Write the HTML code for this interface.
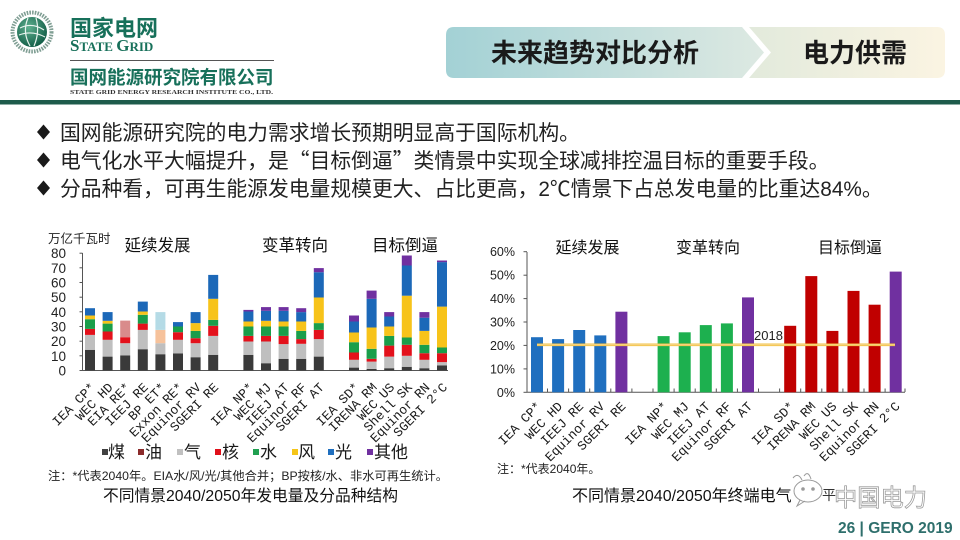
<!DOCTYPE html>
<html><head><meta charset="utf-8"><style>
html,body{margin:0;padding:0;background:#fff}
body{width:960px;height:540px;overflow:hidden;position:relative;font-family:"Liberation Sans","Noto Sans CJK SC",sans-serif}
svg{position:absolute;left:0;top:0}
.cjk{font-family:"Liberation Sans","Noto Sans CJK SC",sans-serif}
.mono{font-family:"Liberation Mono","Noto Sans CJK SC",monospace}
</style></head><body>
<svg width="960" height="540" viewBox="0 0 960 540" xmlns="http://www.w3.org/2000/svg">
<defs>
<linearGradient id="gL" x1="0" x2="1" y1="0" y2="0"><stop offset="0" stop-color="#a3d1d5"/><stop offset="1" stop-color="#dde9e2"/></linearGradient>
<linearGradient id="gR" x1="0" x2="1" y1="0" y2="0"><stop offset="0" stop-color="#e2eadc"/><stop offset="1" stop-color="#fbf4e2"/></linearGradient>
<radialGradient id="gG" cx="0.4" cy="0.35" r="0.7"><stop offset="0" stop-color="#5fb08f"/><stop offset="1" stop-color="#0f5a44"/></radialGradient>
</defs>

<!-- Logo -->
<circle cx="32" cy="32" r="19.5" fill="none" stroke="#7f9e93" stroke-width="4" stroke-dasharray="1.6 1.1"/>
<circle cx="32" cy="32" r="15" fill="url(#gG)"/>
<path d="M20,28 Q32,22 44,30 M19,35 Q32,30 45,37 M28,18 Q22,32 30,46 M36,18 Q40,32 34,46" stroke="#e8f3ee" stroke-width="1.2" fill="none"/>

<text x="70" y="36" font-size="22" font-weight="700" fill="#17705a" class="cjk">国家电网</text>
<text x="70" y="51" font-family="Liberation Serif, serif" font-weight="700" fill="#17705a"><tspan font-size="17">S</tspan><tspan font-size="13">TATE </tspan><tspan font-size="17">G</tspan><tspan font-size="13">RID</tspan></text>
<line x1="70" y1="60.5" x2="274" y2="60.5" stroke="#555" stroke-width="1"/>
<text x="70" y="84" font-size="18.5" font-weight="700" fill="#17705a" class="cjk">国网能源研究院有限公司</text>
<text x="70" y="94" font-size="6" font-weight="700" fill="#333" font-family="Liberation Serif, serif" textLength="203" lengthAdjust="spacingAndGlyphs">STATE GRID ENERGY RESEARCH INSTITUTE CO., LTD.</text>
<rect x="0" y="100" width="960" height="4.5" fill="#1e5b4b"/>

<!-- Title pill -->
<path d="M454,27 H742 L764,52.5 L742,78 H454 Q446,78 446,70 V35 Q446,27 454,27 Z" fill="url(#gL)"/>
<path d="M749,27 H937 Q945,27 945,35 V70 Q945,78 937,78 H749 L771,52.5 Z" fill="url(#gR)"/>
<text x="595" y="62" font-size="26" font-weight="700" fill="#1a1a1a" text-anchor="middle" class="cjk">未来趋势对比分析</text>
<text x="855" y="62" font-size="26" font-weight="700" fill="#1a1a1a" text-anchor="middle" class="cjk">电力供需</text>

<!-- Bullets -->
<g fill="#1a1a1a">
<polygon points="43.5,124.5 50,132 43.5,139.5 37,132"/>
<polygon points="43.5,152.5 50,160 43.5,167.5 37,160"/>
<polygon points="43.5,180.5 50,188 43.5,195.5 37,188"/>
</g>
<g font-size="20.8" fill="#222" class="cjk">
<text x="60" y="140">国网能源研究院的电力需求增长预期明显高于国际机构。</text>
<text x="60" y="168">电气化水平大幅提升，是<tspan style="font-family:'Noto Sans CJK SC',sans-serif">“</tspan>目标倒逼<tspan style="font-family:'Noto Sans CJK SC',sans-serif">”</tspan>类情景中实现全球减排控温目标的重要手段。</text>
<text x="60" y="196">分品种看，可再生能源发电量规模更大、占比更高，2℃情景下占总发电量的比重达84%。</text>
</g>

<!-- LEFT CHART -->
<text x="48" y="243" font-size="12.5" fill="#222" class="cjk">万亿千瓦时</text>
<g font-size="16.5" fill="#111" class="cjk" text-anchor="middle">
<text x="157.5" y="251">延续发展</text>
<text x="295" y="251">变革转向</text>
<text x="405" y="251">目标倒逼</text>
</g>
<g font-size="13.5" fill="#222" text-anchor="end">
<text x="66" y="375.5">0</text>
<text x="66" y="360.8">10</text>
<text x="66" y="346.2">20</text>
<text x="66" y="331.5">30</text>
<text x="66" y="316.8">40</text>
<text x="66" y="302.2">50</text>
<text x="66" y="287.5">60</text>
<text x="66" y="272.8">70</text>
<text x="66" y="258.2">80</text>
</g>
<g stroke="#555" stroke-width="1">
<line x1="82.5" y1="253" x2="82.5" y2="370.5"/>
<line x1="82.5" y1="370.5" x2="448" y2="370.5"/>
<line x1="79.5" y1="370.5" x2="82.5" y2="370.5"/>
<line x1="79.5" y1="355.8" x2="82.5" y2="355.8"/>
<line x1="79.5" y1="341.2" x2="82.5" y2="341.2"/>
<line x1="79.5" y1="326.5" x2="82.5" y2="326.5"/>
<line x1="79.5" y1="311.8" x2="82.5" y2="311.8"/>
<line x1="79.5" y1="297.2" x2="82.5" y2="297.2"/>
<line x1="79.5" y1="282.5" x2="82.5" y2="282.5"/>
<line x1="79.5" y1="267.8" x2="82.5" y2="267.8"/>
<line x1="79.5" y1="253.2" x2="82.5" y2="253.2"/>
</g>

<!-- bars left -->
<g>
<rect x="85" y="349.8" width="10" height="20.7" fill="#3a3a3a"/>
<rect x="85" y="334.9" width="10" height="14.9" fill="#bfbfbf"/>
<rect x="85" y="328.9" width="10" height="6" fill="#e3111b"/>
<rect x="85" y="319.2" width="10" height="9.7" fill="#1a9e4a"/>
<rect x="85" y="315.5" width="10" height="3.7" fill="#f7c31a"/>
<rect x="85" y="308.2" width="10" height="7.3" fill="#1c68b8"/>
<rect x="102.6" y="356.6" width="10" height="13.9" fill="#3a3a3a"/>
<rect x="102.6" y="339.8" width="10" height="16.8" fill="#bfbfbf"/>
<rect x="102.6" y="331.5" width="10" height="8.3" fill="#e3111b"/>
<rect x="102.6" y="323.6" width="10" height="7.9" fill="#1a9e4a"/>
<rect x="102.6" y="320.8" width="10" height="2.8" fill="#f7c31a"/>
<rect x="102.6" y="312.1" width="10" height="8.7" fill="#1c68b8"/>
<rect x="120.2" y="355.5" width="10" height="15" fill="#3a3a3a"/>
<rect x="120.2" y="343.2" width="10" height="12.3" fill="#bfbfbf"/>
<rect x="120.2" y="337.2" width="10" height="6" fill="#e3111b"/>
<rect x="120.2" y="320.6" width="10" height="16.6" fill="#d98b8b"/>
<rect x="137.8" y="349.2" width="10" height="21.3" fill="#3a3a3a"/>
<rect x="137.8" y="329.9" width="10" height="19.3" fill="#bfbfbf"/>
<rect x="137.8" y="323.6" width="10" height="6.3" fill="#e3111b"/>
<rect x="137.8" y="314.8" width="10" height="8.8" fill="#1a9e4a"/>
<rect x="137.8" y="311.5" width="10" height="3.3" fill="#f7c31a"/>
<rect x="137.8" y="301.6" width="10" height="9.9" fill="#1c68b8"/>
<rect x="155.4" y="354.2" width="10" height="16.3" fill="#3a3a3a"/>
<rect x="155.4" y="343.2" width="10" height="11" fill="#bfbfbf"/>
<rect x="155.4" y="329.9" width="10" height="13.3" fill="#f6c29b"/>
<rect x="155.4" y="312.1" width="10" height="17.8" fill="#b5dbe6"/>
<rect x="173" y="353.5" width="10" height="17" fill="#3a3a3a"/>
<rect x="173" y="339.8" width="10" height="13.7" fill="#bfbfbf"/>
<rect x="173" y="332.2" width="10" height="7.6" fill="#e3111b"/>
<rect x="173" y="326.5" width="10" height="5.7" fill="#1a9e4a"/>
<rect x="173" y="322.1" width="10" height="4.4" fill="#1c68b8"/>
<rect x="190.6" y="357.2" width="10" height="13.3" fill="#3a3a3a"/>
<rect x="190.6" y="343.2" width="10" height="14" fill="#bfbfbf"/>
<rect x="190.6" y="338.2" width="10" height="5" fill="#e3111b"/>
<rect x="190.6" y="330.9" width="10" height="7.3" fill="#1a9e4a"/>
<rect x="190.6" y="323.1" width="10" height="7.8" fill="#f7c31a"/>
<rect x="190.6" y="312.1" width="10" height="11" fill="#1c68b8"/>
<rect x="208.2" y="354.8" width="10" height="15.7" fill="#3a3a3a"/>
<rect x="208.2" y="335.9" width="10" height="18.9" fill="#bfbfbf"/>
<rect x="208.2" y="325.8" width="10" height="10.1" fill="#e3111b"/>
<rect x="208.2" y="319.9" width="10" height="5.9" fill="#1a9e4a"/>
<rect x="208.2" y="298.8" width="10" height="21.1" fill="#f7c31a"/>
<rect x="208.2" y="274.9" width="10" height="23.9" fill="#1c68b8"/>
<rect x="243.4" y="354.8" width="10" height="15.7" fill="#3a3a3a"/>
<rect x="243.4" y="341.5" width="10" height="13.3" fill="#bfbfbf"/>
<rect x="243.4" y="335.9" width="10" height="5.6" fill="#e3111b"/>
<rect x="243.4" y="326.5" width="10" height="9.4" fill="#1a9e4a"/>
<rect x="243.4" y="321.5" width="10" height="5" fill="#f7c31a"/>
<rect x="243.4" y="311.5" width="10" height="10" fill="#1c68b8"/>
<rect x="243.4" y="309.9" width="10" height="1.6" fill="#7030a0"/>
<rect x="261" y="363.2" width="10" height="7.3" fill="#3a3a3a"/>
<rect x="261" y="341.5" width="10" height="21.7" fill="#bfbfbf"/>
<rect x="261" y="335.9" width="10" height="5.6" fill="#e3111b"/>
<rect x="261" y="326.5" width="10" height="9.4" fill="#1a9e4a"/>
<rect x="261" y="320.8" width="10" height="5.7" fill="#f7c31a"/>
<rect x="261" y="310.8" width="10" height="10" fill="#1c68b8"/>
<rect x="261" y="307.1" width="10" height="3.7" fill="#7030a0"/>
<rect x="278.6" y="358.8" width="10" height="11.7" fill="#3a3a3a"/>
<rect x="278.6" y="344.1" width="10" height="14.7" fill="#bfbfbf"/>
<rect x="278.6" y="335.9" width="10" height="8.2" fill="#e3111b"/>
<rect x="278.6" y="326.5" width="10" height="9.4" fill="#1a9e4a"/>
<rect x="278.6" y="321.5" width="10" height="5" fill="#f7c31a"/>
<rect x="278.6" y="310.8" width="10" height="10.7" fill="#1c68b8"/>
<rect x="278.6" y="307.1" width="10" height="3.7" fill="#7030a0"/>
<rect x="296.2" y="358.8" width="10" height="11.7" fill="#3a3a3a"/>
<rect x="296.2" y="343.8" width="10" height="15" fill="#bfbfbf"/>
<rect x="296.2" y="339.1" width="10" height="4.7" fill="#e3111b"/>
<rect x="296.2" y="330.9" width="10" height="8.2" fill="#1a9e4a"/>
<rect x="296.2" y="321.5" width="10" height="9.4" fill="#f7c31a"/>
<rect x="296.2" y="312.1" width="10" height="9.4" fill="#1c68b8"/>
<rect x="296.2" y="308.2" width="10" height="3.9" fill="#7030a0"/>
<rect x="313.8" y="356.6" width="10" height="13.9" fill="#3a3a3a"/>
<rect x="313.8" y="339.1" width="10" height="17.5" fill="#bfbfbf"/>
<rect x="313.8" y="329.9" width="10" height="9.2" fill="#e3111b"/>
<rect x="313.8" y="323.1" width="10" height="6.8" fill="#1a9e4a"/>
<rect x="313.8" y="297.5" width="10" height="25.6" fill="#f7c31a"/>
<rect x="313.8" y="272.2" width="10" height="25.3" fill="#1c68b8"/>
<rect x="313.8" y="268.1" width="10" height="4.1" fill="#7030a0"/>
<rect x="349" y="367.6" width="10" height="2.9" fill="#3a3a3a"/>
<rect x="349" y="359.8" width="10" height="7.8" fill="#bfbfbf"/>
<rect x="349" y="352.5" width="10" height="7.3" fill="#e3111b"/>
<rect x="349" y="342.2" width="10" height="10.3" fill="#1a9e4a"/>
<rect x="349" y="332.5" width="10" height="9.7" fill="#f7c31a"/>
<rect x="349" y="321.5" width="10" height="11" fill="#1c68b8"/>
<rect x="349" y="315.5" width="10" height="6" fill="#7030a0"/>
<rect x="366.6" y="368.9" width="10" height="1.6" fill="#3a3a3a"/>
<rect x="366.6" y="361.6" width="10" height="7.3" fill="#bfbfbf"/>
<rect x="366.6" y="358.8" width="10" height="2.8" fill="#e3111b"/>
<rect x="366.6" y="348.8" width="10" height="10" fill="#1a9e4a"/>
<rect x="366.6" y="327.5" width="10" height="21.3" fill="#f7c31a"/>
<rect x="366.6" y="298.8" width="10" height="28.7" fill="#1c68b8"/>
<rect x="366.6" y="290.6" width="10" height="8.2" fill="#7030a0"/>
<rect x="384.2" y="368.2" width="10" height="2.3" fill="#3a3a3a"/>
<rect x="384.2" y="356.6" width="10" height="11.6" fill="#bfbfbf"/>
<rect x="384.2" y="345.6" width="10" height="11" fill="#e3111b"/>
<rect x="384.2" y="335.9" width="10" height="9.7" fill="#1a9e4a"/>
<rect x="384.2" y="326.5" width="10" height="9.4" fill="#f7c31a"/>
<rect x="384.2" y="316.5" width="10" height="10" fill="#1c68b8"/>
<rect x="384.2" y="312.1" width="10" height="4.4" fill="#7030a0"/>
<rect x="401.8" y="366.8" width="10" height="3.7" fill="#3a3a3a"/>
<rect x="401.8" y="355.8" width="10" height="11" fill="#bfbfbf"/>
<rect x="401.8" y="344.8" width="10" height="11" fill="#e3111b"/>
<rect x="401.8" y="337.5" width="10" height="7.3" fill="#1a9e4a"/>
<rect x="401.8" y="295.7" width="10" height="41.8" fill="#f7c31a"/>
<rect x="401.8" y="265.5" width="10" height="30.2" fill="#1c68b8"/>
<rect x="401.8" y="255.5" width="10" height="10" fill="#7030a0"/>
<rect x="419.4" y="368.2" width="10" height="2.3" fill="#3a3a3a"/>
<rect x="419.4" y="359.8" width="10" height="8.4" fill="#bfbfbf"/>
<rect x="419.4" y="353.2" width="10" height="6.6" fill="#e3111b"/>
<rect x="419.4" y="344.8" width="10" height="8.4" fill="#1a9e4a"/>
<rect x="419.4" y="330.9" width="10" height="13.9" fill="#f7c31a"/>
<rect x="419.4" y="317.7" width="10" height="13.2" fill="#1c68b8"/>
<rect x="419.4" y="312.1" width="10" height="5.6" fill="#7030a0"/>
<rect x="437" y="365.5" width="10" height="5" fill="#3a3a3a"/>
<rect x="437" y="362.1" width="10" height="3.4" fill="#bfbfbf"/>
<rect x="437" y="353.2" width="10" height="8.9" fill="#e3111b"/>
<rect x="437" y="347.5" width="10" height="5.7" fill="#1a9e4a"/>
<rect x="437" y="306.6" width="10" height="40.9" fill="#f7c31a"/>
<rect x="437" y="262.1" width="10" height="44.5" fill="#1c68b8"/>
<rect x="437" y="260.5" width="10" height="1.6" fill="#7030a0"/>
</g>

<!-- left x labels -->
<g font-size="13" fill="#1a1a1a" class="mono" text-anchor="end">
<text transform="translate(96,388) rotate(-45)">IEA CP*</text>
<text transform="translate(113.6,388) rotate(-45)">WEC HD</text>
<text transform="translate(131.2,388) rotate(-45)">EIA RE*</text>
<text transform="translate(148.8,388) rotate(-45)">IEEJ RE</text>
<text transform="translate(166.4,388) rotate(-45)">BP ET*</text>
<text transform="translate(184,388) rotate(-45)">Exxon RE*</text>
<text transform="translate(201.6,388) rotate(-45)">Equinor RV</text>
<text transform="translate(219.2,388) rotate(-45)">SGERI RE</text>
<text transform="translate(254.4,388) rotate(-45)">IEA NP*</text>
<text transform="translate(272,388) rotate(-45)">WEC MJ</text>
<text transform="translate(289.6,388) rotate(-45)">IEEJ AT</text>
<text transform="translate(307.2,388) rotate(-45)">Equinor RF</text>
<text transform="translate(324.8,388) rotate(-45)">SGERI AT</text>
<text transform="translate(360,388) rotate(-45)">IEA SD*</text>
<text transform="translate(377.6,388) rotate(-45)">IRENA RM</text>
<text transform="translate(395.2,388) rotate(-45)">WEC US</text>
<text transform="translate(412.8,388) rotate(-45)">Shell SK</text>
<text transform="translate(430.4,388) rotate(-45)">Equinor RN</text>
<text transform="translate(448,388) rotate(-45)">SGERI 2°C</text>
</g>

<!-- legend -->
<g>
<rect x="102" y="449" width="6" height="6" fill="#404040"/>
<rect x="138" y="449" width="6" height="6" fill="#8b2b2b"/>
<rect x="177" y="449" width="6" height="6" fill="#c0c0c0"/>
<rect x="215" y="449" width="6" height="6" fill="#e0101a"/>
<rect x="253" y="449" width="6" height="6" fill="#20a050"/>
<rect x="292" y="449" width="6" height="6" fill="#f5c518"/>
<rect x="328" y="449" width="6" height="6" fill="#1f6fbf"/>
<rect x="367" y="449" width="6" height="6" fill="#7030a0"/>
</g>
<g font-size="17" fill="#1a1a1a" class="cjk">
<text x="108" y="458">煤</text>
<text x="145" y="458">油</text>
<text x="184" y="458">气</text>
<text x="222" y="458">核</text>
<text x="260" y="458">水</text>
<text x="298" y="458">风</text>
<text x="335" y="458">光</text>
<text x="374" y="458">其他</text>
</g>
<text x="48" y="480" font-size="12" fill="#222" class="cjk" textLength="400" lengthAdjust="spacingAndGlyphs">注：*代表2040年。EIA水/风/光/其他合并；BP按核/水、非水可再生统计。</text>
<text x="103" y="501" font-size="16" fill="#111" class="cjk" textLength="295" lengthAdjust="spacingAndGlyphs">不同情景2040/2050年发电量及分品种结构</text>

<!-- RIGHT CHART -->
<g font-size="16" fill="#111" class="cjk" text-anchor="middle">
<text x="587.5" y="253">延续发展</text>
<text x="708" y="253">变革转向</text>
<text x="850" y="253">目标倒逼</text>
</g>
<g font-size="12.5" fill="#222" text-anchor="end">
<text x="515" y="396.8">0%</text>
<text x="515" y="373.4">10%</text>
<text x="515" y="350">20%</text>
<text x="515" y="326.5">30%</text>
<text x="515" y="303.1">40%</text>
<text x="515" y="279.7">50%</text>
<text x="515" y="256.2">60%</text>
</g>
<g stroke="#555" stroke-width="1">
<line x1="527" y1="252" x2="527" y2="392.3"/>
<line x1="527" y1="392.3" x2="905" y2="392.3"/>
<line x1="523.5" y1="392.3" x2="527" y2="392.3"/>
<line x1="523.5" y1="368.9" x2="527" y2="368.9"/>
<line x1="523.5" y1="345.4" x2="527" y2="345.4"/>
<line x1="523.5" y1="322" x2="527" y2="322"/>
<line x1="523.5" y1="298.6" x2="527" y2="298.6"/>
<line x1="523.5" y1="275.2" x2="527" y2="275.2"/>
<line x1="523.5" y1="251.7" x2="527" y2="251.7"/>
</g>
<g stroke="#555" stroke-width="1">
<line x1="547.5" y1="388.5" x2="547.5" y2="392"/>
<line x1="568.6" y1="388.5" x2="568.6" y2="392"/>
<line x1="589.7" y1="388.5" x2="589.7" y2="392"/>
<line x1="610.8" y1="388.5" x2="610.8" y2="392"/>
<line x1="631.9" y1="388.5" x2="631.9" y2="392"/>
<line x1="653" y1="388.5" x2="653" y2="392"/>
<line x1="674.1" y1="388.5" x2="674.1" y2="392"/>
<line x1="695.2" y1="388.5" x2="695.2" y2="392"/>
<line x1="716.3" y1="388.5" x2="716.3" y2="392"/>
<line x1="737.4" y1="388.5" x2="737.4" y2="392"/>
<line x1="758.5" y1="388.5" x2="758.5" y2="392"/>
<line x1="779.6" y1="388.5" x2="779.6" y2="392"/>
<line x1="800.7" y1="388.5" x2="800.7" y2="392"/>
<line x1="821.8" y1="388.5" x2="821.8" y2="392"/>
<line x1="842.9" y1="388.5" x2="842.9" y2="392"/>
<line x1="864" y1="388.5" x2="864" y2="392"/>
<line x1="885.1" y1="388.5" x2="885.1" y2="392"/>
<line x1="905" y1="388.5" x2="905" y2="392"/>
</g>
<g>
<rect x="531" y="337.2" width="12" height="55.1" fill="#1f6fbf"/>
<rect x="552.1" y="339.1" width="12" height="53.2" fill="#1f6fbf"/>
<rect x="573.2" y="330" width="12" height="62.3" fill="#1f6fbf"/>
<rect x="594.3" y="335.4" width="12" height="56.9" fill="#1f6fbf"/>
<rect x="615.4" y="311.7" width="12" height="80.6" fill="#7030a0"/>
<rect x="657.6" y="336.1" width="12" height="56.2" fill="#1db04f"/>
<rect x="678.7" y="332.3" width="12" height="60" fill="#1db04f"/>
<rect x="699.8" y="325.1" width="12" height="67.2" fill="#1db04f"/>
<rect x="720.9" y="323.4" width="12" height="68.9" fill="#1db04f"/>
<rect x="742" y="297.4" width="12" height="94.9" fill="#7030a0"/>
<rect x="784.2" y="325.8" width="12" height="66.5" fill="#c00000"/>
<rect x="805.3" y="276.1" width="12" height="116.2" fill="#c00000"/>
<rect x="826.4" y="330.9" width="12" height="61.4" fill="#c00000"/>
<rect x="847.5" y="290.9" width="12" height="101.4" fill="#c00000"/>
<rect x="868.6" y="304.7" width="12" height="87.6" fill="#c00000"/>
<rect x="889.7" y="271.6" width="12" height="120.7" fill="#7030a0"/>
</g>
<line x1="537" y1="344.8" x2="895" y2="344.8" stroke="#f2c240" stroke-width="2.6"/>
<line x1="537" y1="344.8" x2="895" y2="344.8" stroke="#f8dca0" stroke-width="0.8"/>
<text x="754" y="340" font-size="13" fill="#222">2018</text>

<g font-size="13" fill="#1a1a1a" class="mono" text-anchor="end">
<text transform="translate(542,407) rotate(-45)">IEA CP*</text>
<text transform="translate(563.1,407) rotate(-45)">WEC HD</text>
<text transform="translate(584.2,407) rotate(-45)">IEEJ RE</text>
<text transform="translate(605.3,407) rotate(-45)">Equinor RV</text>
<text transform="translate(626.4,407) rotate(-45)">SGERI RE</text>
<text transform="translate(668.6,407) rotate(-45)">IEA NP*</text>
<text transform="translate(689.7,407) rotate(-45)">WEC MJ</text>
<text transform="translate(710.8,407) rotate(-45)">IEEJ AT</text>
<text transform="translate(731.9,407) rotate(-45)">Equinor RF</text>
<text transform="translate(753,407) rotate(-45)">SGERI AT</text>
<text transform="translate(795.2,407) rotate(-45)">IEA SD*</text>
<text transform="translate(816.3,407) rotate(-45)">IRENA RM</text>
<text transform="translate(837.4,407) rotate(-45)">WEC US</text>
<text transform="translate(858.5,407) rotate(-45)">Shell SK</text>
<text transform="translate(879.6,407) rotate(-45)">Equinor RN</text>
<text transform="translate(900.7,407) rotate(-45)">SGERI 2°C</text>
</g>
<text x="497" y="473" font-size="12" fill="#222" class="cjk">注：*代表2040年。</text>
<text x="572" y="501" font-size="16" fill="#111" class="cjk">不同情景2040/2050年终端电气</text>

<!-- watermark -->
<g fill="none" stroke="#9a9a9a" stroke-width="1">
<ellipse cx="808" cy="491" rx="14" ry="11"/>
<path d="M800,500 L797,506 L805,501"/>
<path d="M793,478 Q798,472 802,480 M804,476 Q808,470 811,479"/>
<circle cx="803" cy="489" r="1.3" fill="#9a9a9a"/>
<circle cx="813" cy="489" r="1.3" fill="#9a9a9a"/>
</g>
<text x="822" y="500" font-size="14" fill="#333" class="cjk">平</text>
<text x="834" y="506" font-size="24" fill="#fff" stroke="#9a9a9a" stroke-width="0.8" class="cjk" textLength="93" lengthAdjust="spacingAndGlyphs">中国电力</text>

<!-- footer -->
<text x="838" y="533" font-size="15.5" font-weight="700" fill="#2e6f6c">26 | GERO 2019</text>
</svg>
</body></html>
